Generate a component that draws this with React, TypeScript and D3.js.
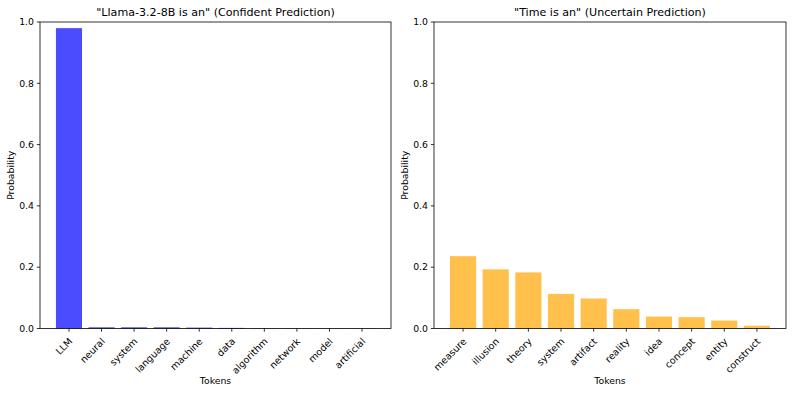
import React from "react";
import * as d3 from "d3";

const leftTokens = ["LLM", "neural", "system", "language", "machine", "data", "algorithm", "network", "model", "artificial"];
const leftProbs = [0.98, 0.004, 0.004, 0.004, 0.003, 0.002, 0.0008, 0.0006, 0.0005, 0.0004];

const rightTokens = ["measure", "illusion", "theory", "system", "artifact", "reality", "idea", "concept", "entity", "construct"];
const rightProbs = [0.236, 0.193, 0.183, 0.113, 0.098, 0.063, 0.039, 0.037, 0.026, 0.009];

const yTicks = [0, 0.2, 0.4, 0.6, 0.8, 1.0];

const W = 792;
const H = 393;
const top = 22;
const bottom = 328.5;
const font = "DejaVu Sans, sans-serif";
const fs = 9.3;

type PanelProps = {
  x0: number;
  x1: number;
  title: string;
  tokens: string[];
  probs: number[];
  color: string;
};

function Panel({ x0, x1, title, tokens, probs, color }: PanelProps) {
  // matplotlib style: bar width 0.8, 5% margins
  const n = tokens.length;
  const lo = -0.4, hi = n - 1 + 0.4;
  const m = (hi - lo) * 0.05;
  const x = d3.scaleLinear().domain([lo - m, hi + m]).range([x0, x1]);
  const y = d3.scaleLinear().domain([0, 1]).range([bottom, top]);
  const bw = x(0.8) - x(0);

  return (
    <g fontFamily={font} fill="#000">
      {probs.map((p, i) => (
        <rect
          key={i}
          x={x(i - 0.4)}
          y={y(p)}
          width={bw}
          height={y(0) - y(p)}
          fill={color}
          fillOpacity={0.7}
        />
      ))}
      <rect x={x0} y={top} width={x1 - x0} height={bottom - top} fill="none" stroke="#000" strokeWidth={0.8} />
      {yTicks.map((t) => (
        <g key={t}>
          <line x1={x0 - 3.2} x2={x0} y1={y(t)} y2={y(t)} stroke="#000" strokeWidth={0.8} />
          <text x={x0 - 6} y={y(t)} dy="0.35em" textAnchor="end" fontSize={fs}>
            {t.toFixed(1)}
          </text>
        </g>
      ))}
      {tokens.map((tk, i) => (
        <g key={tk}>
          <line x1={x(i)} x2={x(i)} y1={bottom} y2={bottom + 3.2} stroke="#000" strokeWidth={0.8} />
          <text
            transform={`translate(${x(i) + 4},${bottom + 13.5}) rotate(-45)`}
            textAnchor="end"
            fontSize={9.5}
          >
            {tk}
          </text>
        </g>
      ))}
      <text x={(x0 + x1) / 2} y={top - 6} textAnchor="middle" fontSize={11.1}>
        {title}
      </text>
      <text x={(x0 + x1) / 2} y={384} textAnchor="middle" fontSize={fs}>
        Tokens
      </text>
      <text
        transform={`translate(${x0 - 26.5},${(top + bottom) / 2}) rotate(-90)`}
        textAnchor="middle"
        fontSize={fs}
      >
        Probability
      </text>
    </g>
  );
}

export default function App() {
  return (
    <svg width={W} height={H} style={{ position: "absolute", left: 0, top: 0, background: "#fff" }}>
      <Panel
        x0={40}
        x1={391}
        title={'"Llama-3.2-8B is an" (Confident Prediction)'}
        tokens={leftTokens}
        probs={leftProbs}
        color="blue"
      />
      <Panel
        x0={434}
        x1={786}
        title={'"Time is an" (Uncertain Prediction)'}
        tokens={rightTokens}
        probs={rightProbs}
        color="orange"
      />
    </svg>
  );
}
